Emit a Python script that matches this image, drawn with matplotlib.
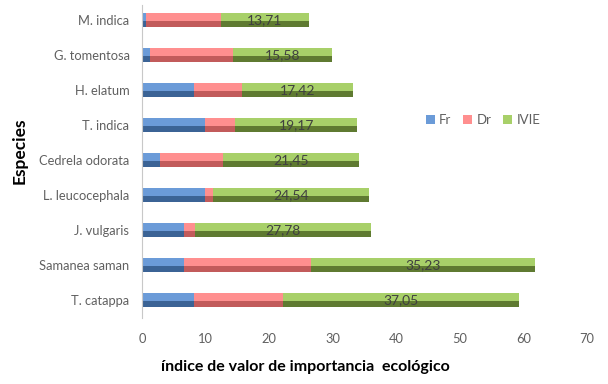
import matplotlib.pyplot as plt
import numpy as np

# species listed top to bottom
especies = ["M. indica", "G. tomentosa", "H. elatum", "T. indica", "Cedrela odorata",
            "L. leucocephala", "J. vulgaris", "Samanea saman", "T. catappa"]
fr = [0.6, 1.2, 8.2, 9.9, 2.8, 9.9, 6.6, 6.6, 8.2]
dr = [11.9, 13.1, 7.5, 4.8, 9.9, 1.3, 1.7, 20.0, 14.0]
ivie = [13.71, 15.58, 17.42, 19.17, 21.45, 24.54, 27.78, 35.23, 37.05]

series = ["Fr", "Dr", "IVIE"]
# (light top, dark bottom) to fake the bevelled Excel look
colors = {"Fr": ("#6b9bd8", "#3b6395"),
          "Dr": ("#ff8f8f", "#c25b5b"),
          "IVIE": ("#a8d069", "#5f7a31")}

plt.rcParams["font.family"] = ["Lato", "DejaVu Sans"]

fig = plt.figure(figsize=(6.08, 3.84), dpi=100)
ax = fig.add_axes([142 / 608, 1 - 318 / 384, (587 - 142) / 608, 313 / 384])

y = np.arange(len(especies))
h = 0.42
left = np.zeros(len(especies))
for name, vals in zip(series, [fr, dr, ivie]):
    vals = np.array(vals)
    light, dark = colors[name]
    ax.barh(y, vals, height=h, left=left, color=dark, linewidth=0)
    # lighter upper part (axis is inverted, so top = smaller y)
    ax.barh(y - h * 0.22, vals, height=h * 0.56, left=left, color=light, linewidth=0,
            label=name)
    left = left + vals

# value labels on the IVIE segment
start = np.array(fr) + np.array(dr)
for yi, s, v in zip(y, start, ivie):
    ax.text(s + v / 2, yi, f"{v:.2f}".replace(".", ","), ha="center", va="center",
            fontsize=10, color="#404040")

ax.set_xlim(0, 70)
ax.set_ylim(8.51, -0.43)
ax.set_xticks(range(0, 71, 10))
ax.set_yticks(y)
ax.set_yticklabels(especies)
ax.tick_params(axis="both", length=0, labelsize=9.3, labelcolor="#606060")
ax.tick_params(axis="y", pad=9)
ax.tick_params(axis="x", pad=11)
for sp in ["top", "right", "bottom"]:
    ax.spines[sp].set_visible(False)
ax.spines["left"].set_color("#c8c8c8")

fig.text(20 / 608, 1 - 151 / 384, "Especies", rotation=90, ha="center", va="center",
         fontsize=12.5, fontweight="bold")
fig.text(305 / 608, 1 - 367 / 384, "índice de valor de importancia  ecológico",
         ha="center", va="center", fontsize=11.5, fontweight="bold")

leg = ax.legend(loc="center", bbox_to_anchor=((483 - 142) / 445, (318 - 120) / 313),
                ncol=3, frameon=False, fontsize=9.5, handlelength=0.7, handleheight=0.7,
                handletextpad=0.3, columnspacing=0.9, labelcolor="#606060")

fig.savefig("out.png", dpi=100)
